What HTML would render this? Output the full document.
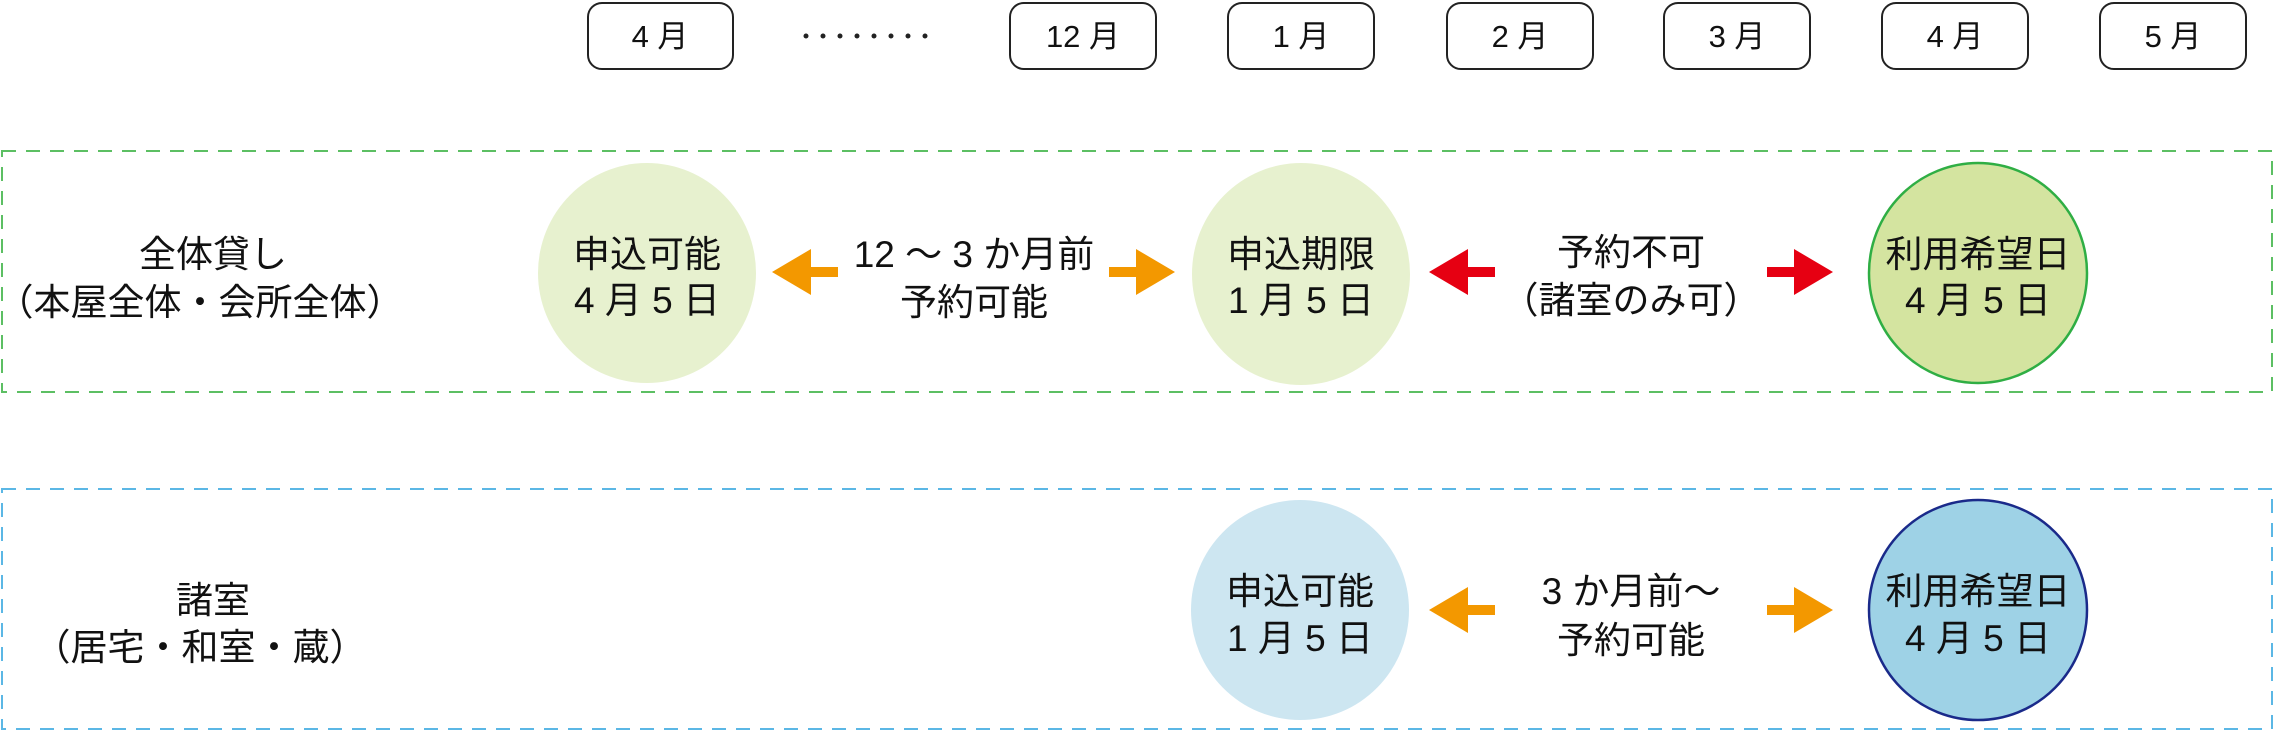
<!DOCTYPE html>
<html><head><meta charset="utf-8"><style>
html,body{margin:0;padding:0;background:#fff;}
svg{display:block;}
text{font-family:"Liberation Sans","Noto Sans CJK JP",sans-serif;fill:#111;}
</style></head><body>
<svg width="2275" height="733" viewBox="0 0 2275 733" xmlns="http://www.w3.org/2000/svg">
<defs>
<g id="al"><polygon points="0,0 39,-23 39,-5 66,-5 66,5 39,5 39,23"/></g>
<g id="ar"><polygon points="0,0 -39,-23 -39,-5 -66,-5 -66,5 -39,5 -39,23"/></g>
</defs>
<g fill="#fff" stroke="#222" stroke-width="2">
<rect x="588" y="3" width="145" height="66" rx="14"/>
<rect x="1010" y="3" width="146" height="66" rx="14"/>
<rect x="1228" y="3" width="146" height="66" rx="14"/>
<rect x="1447" y="3" width="146" height="66" rx="14"/>
<rect x="1664" y="3" width="146" height="66" rx="14"/>
<rect x="1882" y="3" width="146" height="66" rx="14"/>
<rect x="2100" y="3" width="146" height="66" rx="14"/>
</g>
<g font-size="31" text-anchor="middle">
<text x="660" y="47">4 月</text>
<text x="1083" y="47">12 月</text>
<text x="1301" y="47">1 月</text>
<text x="1520" y="47">2 月</text>
<text x="1737" y="47">3 月</text>
<text x="1955" y="47">4 月</text>
<text x="2173" y="47">5 月</text>
</g>
<g fill="#222">
<circle cx="806" cy="36" r="2.5"/><circle cx="823" cy="36" r="2.5"/><circle cx="840" cy="36" r="2.5"/><circle cx="857" cy="36" r="2.5"/><circle cx="874" cy="36" r="2.5"/><circle cx="891" cy="36" r="2.5"/><circle cx="908" cy="36" r="2.5"/><circle cx="925" cy="36" r="2.5"/>
</g>
<rect x="2" y="151" width="2270" height="241" fill="none" stroke="#5cbf63" stroke-width="2" stroke-dasharray="14,10"/>
<rect x="2" y="489" width="2270" height="240" fill="none" stroke="#5bb7e5" stroke-width="2" stroke-dasharray="14,10"/>
<ellipse cx="647" cy="273" rx="109" ry="110" fill="#e7f1cf"/>
<ellipse cx="1301" cy="274" rx="109" ry="111" fill="#e7f1cf"/>
<ellipse cx="1978" cy="273" rx="109" ry="110" fill="#d4e4a0" stroke="#2fae44" stroke-width="2.5"/>
<ellipse cx="1300" cy="610" rx="109" ry="110" fill="#cde6f1"/>
<ellipse cx="1978" cy="610" rx="109" ry="110" fill="#9ed2e6" stroke="#1a2a8a" stroke-width="2.5"/>
<g fill="#f39800">
<use href="#al" x="772" y="272"/>
<use href="#ar" x="1175" y="272"/>
<use href="#al" x="1429" y="610"/>
<use href="#ar" x="1833" y="610"/>
</g>
<g fill="#e60012">
<use href="#al" x="1429" y="272"/>
<use href="#ar" x="1833" y="272"/>
</g>
<g font-size="37" text-anchor="middle">
<text x="213" y="267">全体貸し</text>
<text x="200" y="315">（本屋全体・会所全体）</text>
<text x="213" y="613">諸室</text>
<text x="200" y="660">（居宅・和室・蔵）</text>
<text x="647" y="267">申込可能</text>
<text x="647" y="313">4 月 5 日</text>
<text x="974" y="267">12 ～ 3 か月前</text>
<text x="974" y="315">予約可能</text>
<text x="1301" y="267">申込期限</text>
<text x="1301" y="313">1 月 5 日</text>
<text x="1631" y="265">予約不可</text>
<text x="1631" y="313">（諸室のみ可）</text>
<text x="1978" y="267">利用希望日</text>
<text x="1978" y="313">4 月 5 日</text>
<text x="1300" y="604">申込可能</text>
<text x="1300" y="651">1 月 5 日</text>
<text x="1631" y="604">3 か月前～</text>
<text x="1631" y="653">予約可能</text>
<text x="1978" y="604">利用希望日</text>
<text x="1978" y="651">4 月 5 日</text>
</g>
</svg>
</body></html>
